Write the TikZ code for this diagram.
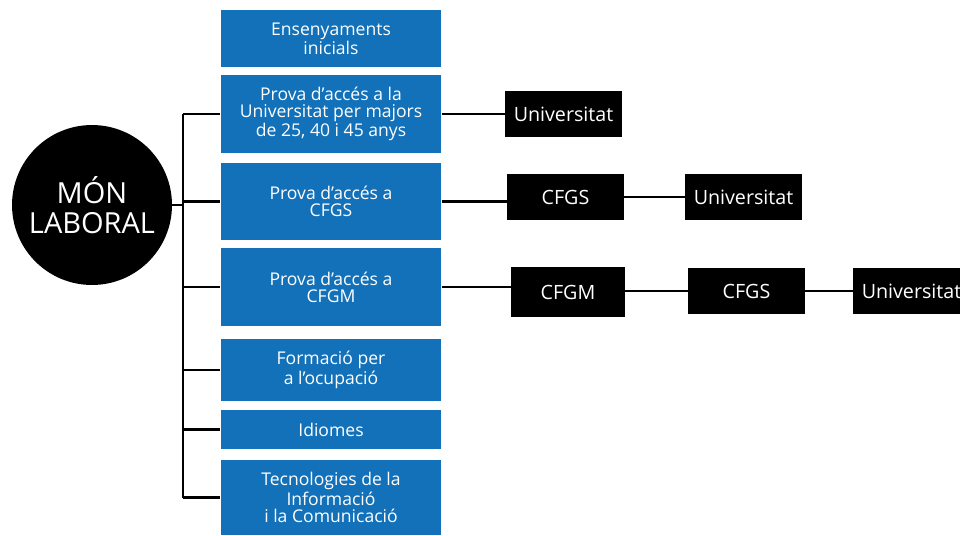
\documentclass[tikz,border=0pt]{standalone}
\usepackage{fontspec}
\setmainfont{Open Sans}
\usepackage{xcolor}
\usetikzlibrary{positioning,calc}
\definecolor{boxblue}{HTML}{1271B8}

\begin{document}
\begin{tikzpicture}[x=0.02cm,y=-0.02cm,
    bluebox/.style={fill=boxblue,text=white,minimum width=4.42cm,align=center,
      inner sep=0pt,font=\fontsize{10}{9.8}\selectfont},
    blackbox/.style={fill=black,text=white,minimum width=2.34cm,minimum height=0.92cm,
      inner sep=0pt,font=\fontsize{11.2}{11}\selectfont},
    link/.style={draw=black,line width=1.4pt}]
  \useasboundingbox (0,0) rectangle (960,535);

  % Central circle
  \node[circle,fill=black,text=white,minimum size=3.2cm,align=center,
    font=\fontsize{16.5}{17}\selectfont] (mon) at (92,205) {MÓN\\LABORAL};

  % Blue column
  \node[bluebox,minimum height=1.14cm] (ens) at (331,38.5) {Ensenyaments\\inicials};
  \node[bluebox,minimum height=1.56cm] (puni) at (331,114) {Prova d’accés a la\\Universitat per majors\\de 25, 40 i 45 anys};
  \node[bluebox,minimum height=1.54cm] (pcfgs) at (331,201.5) {Prova d’accés a\\CFGS};
  \node[bluebox,minimum height=1.56cm] (pcfgm) at (331,287) {Prova d’accés a\\CFGM};
  \node[bluebox,minimum height=1.24cm] (focup) at (331,370) {Formació per\\a l’ocupació};
  \node[bluebox,minimum height=0.78cm] (idio) at (331,429.5) {Idiomes};
  \node[bluebox,minimum height=1.5cm] (tic) at (331,497.5) {Tecnologies de la\\Informació\\i la Comunicació};

  % Black boxes
  \node[blackbox] (uni1) at (563.5,114) {Universitat};
  \node[blackbox] (cfgs1) at (565.5,197) {CFGS};
  \node[blackbox] (uni2) at (743.5,197) {Universitat};
  \node[blackbox,minimum width=2.28cm,minimum height=1cm] (cfgm) at (568,292) {CFGM};
  \node[blackbox] (cfgs2) at (746.5,291) {CFGS};
  \node[blackbox] (uni3) at (911.5,291) {Universitat};

  % Trunk
  \coordinate (ttop) at (183,114);
  \coordinate (tbot) at (183,497.5);
  \draw[link] (ttop) -- (tbot);
  \draw[link] (mon.east) -- (mon.east -| ttop);
  \foreach \b in {puni,pcfgs,pcfgm,focup,idio,tic}
    \draw[link] (\b.west -| ttop) -- (\b.west);

  % Paths to the right
  \draw[link] (puni.east) -- (uni1.west);
  \draw[link] (pcfgs.east) -- (pcfgs.east -| cfgs1.west);
  \draw[link] (cfgs1.east) -- (uni2.west);
  \draw[link] (pcfgm.east) -- (pcfgm.east -| cfgm.west);
  \draw[link] (cfgm.east |- cfgs2.west) -- (cfgs2.west);
  \draw[link] (cfgs2.east) -- (uni3.west);
\end{tikzpicture}
\end{document}
